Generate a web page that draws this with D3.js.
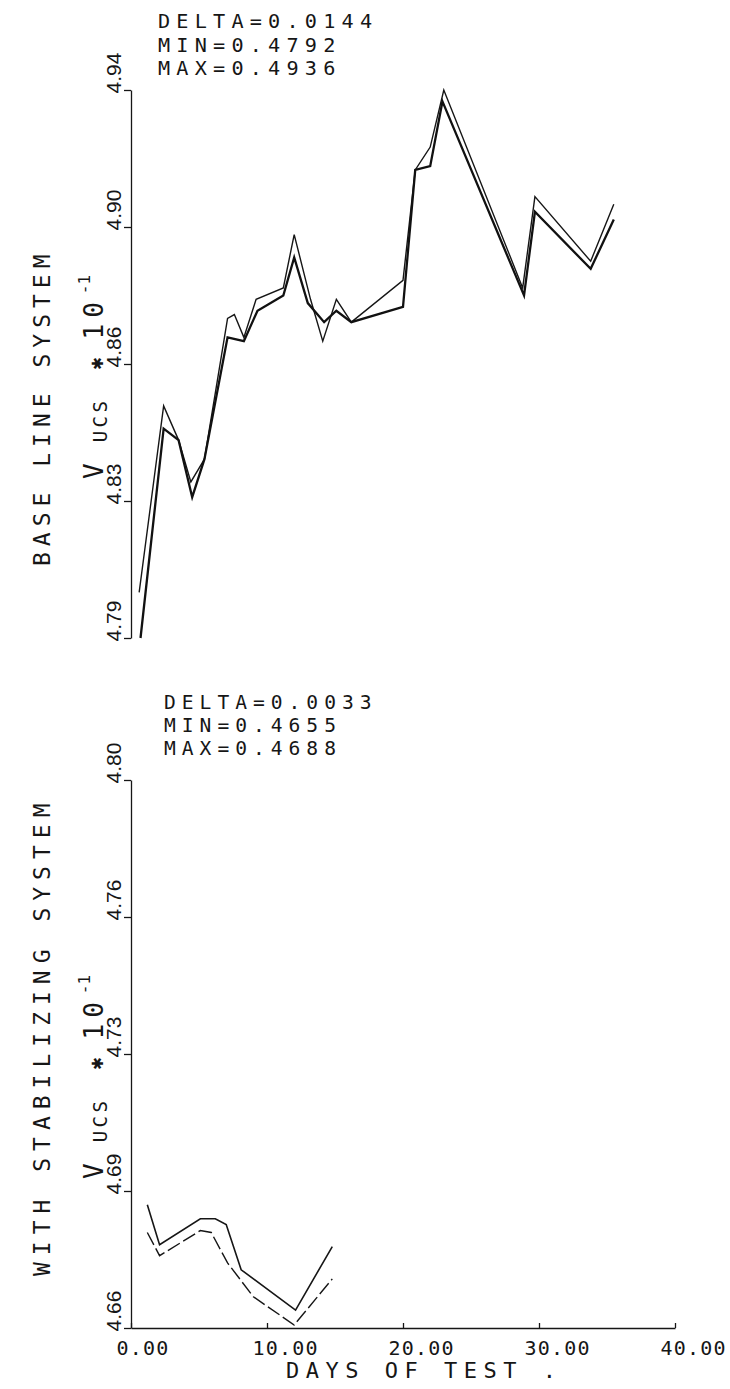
<!DOCTYPE html>
<html lang="en">
<head>
<meta charset="UTF-8">
<title>V UCS vs days of test</title>
<script src="https://d3js.org/d3.v7.min.js"></script>
<style>
  body { margin: 0; background: #fff; }
  svg text { font-family: "DejaVu Sans Mono", monospace; fill: #161616; }
</style>
</head>
<body>
<script>
// readings taken off the plotter sheet (days of test, V UCS x10^-1)
const xTicks = [0, 10, 20, 30, 40];

// baseline system
const topDaysA = [0.6, 2.4, 3.5, 4.4, 5.4, 7.1, 7.6, 8.3, 9.2, 11.2, 12.0, 13.2, 14.1, 15.1, 16.2, 20.0, 20.9, 22.0, 23.0, 28.8, 29.7, 33.8, 35.5];
const topValsA = [4.804, 4.853, 4.844, 4.833, 4.839, 4.876, 4.877, 4.871, 4.881, 4.884, 4.898, 4.881, 4.870, 4.881, 4.875, 4.886, 4.915, 4.921, 4.936, 4.884, 4.908, 4.891, 4.906];
const topDaysB = [0.7, 2.4, 3.5, 4.5, 5.4, 7.1, 8.3, 9.3, 11.2, 12.0, 13.0, 14.2, 15.1, 16.2, 20.0, 20.9, 22.0, 22.9, 28.9, 29.7, 33.8, 35.5];
const topValsB = [4.792, 4.847, 4.844, 4.829, 4.839, 4.871, 4.870, 4.878, 4.882, 4.892, 4.880, 4.875, 4.878, 4.875, 4.879, 4.915, 4.916, 4.933, 4.882, 4.904, 4.889, 4.902];
const topTicks = [4.792, 4.828, 4.864, 4.900, 4.936];
const topTickLabels = ["4.79", "4.83", "4.86", "4.90", "4.94"];
const topStats = ["DELTA=0.0144", "MIN=0.4792", "MAX=0.4936"];

// with stabilizing system
const botDaysA = [1.2, 2.1, 5.1, 6.2, 7.0, 8.1, 12.1, 14.8];
const botValsA = [4.6874, 4.6769, 4.6837, 4.6837, 4.6822, 4.6703, 4.6597, 4.6764];
const botDaysB = [1.2, 2.1, 5.1, 5.9, 7.1, 9.0, 12.0, 14.8];
const botValsB = [4.6801, 4.6740, 4.6806, 4.6801, 4.6721, 4.6632, 4.6558, 4.6679];
const botTicks = [4.655, 4.691, 4.727, 4.763, 4.799];
const botTickLabels = ["4.66", "4.69", "4.73", "4.76", "4.80"];
const botStats = ["DELTA=0.0033", "MIN=0.4655", "MAX=0.4688"];

const svg = d3.select("body").append("svg")
    .attr("width", 730)
    .attr("height", 1389)
    .style("background", "#fff");

const x = d3.scaleLinear().domain([0, 40]).range([131, 675]);
const yTop = d3.scaleLinear().domain([4.792, 4.936]).range([638, 90]);
const yBot = d3.scaleLinear().domain([4.655, 4.799]).range([1328, 780]);

function zip(days, vals) {
    return days.map((d, i) => [d, vals[i]]);
}

function yAxis(y, ticks, labels) {
    const g = svg.append("g")
        .attr("transform", `translate(${x(0)},0)`)
        .call(d3.axisLeft(y).tickValues(ticks).tickSize(7).tickSizeOuter(0)
            .tickFormat((d, i) => labels[i]));
    g.select(".domain").attr("stroke", "#161616").attr("stroke-width", 1.3);
    g.selectAll(".tick line").attr("stroke", "#161616").attr("stroke-width", 1.3);
    g.selectAll(".tick text")
        .attr("x", null).attr("dy", null)
        .attr("transform", "translate(-10,3) rotate(-90)")
        .attr("text-anchor", "start")
        .style("font-family", "'Liberation Sans', sans-serif")
        .style("font-size", "21px");
    return g;
}

function panelTitle(cx, yStart, label, spacing) {
    svg.append("text")
        .attr("transform", `translate(${cx},${yStart}) rotate(-90)`)
        .attr("text-anchor", "start")
        .style("font-size", "23px")
        .style("letter-spacing", spacing + "px")
        .text(label);
}

// V with subscript UCS, then *10 with superscript -1
function unitsLabel(yStart) {
    const t = svg.append("text")
        .attr("transform", `translate(103,${yStart}) rotate(-90)`)
        .attr("text-anchor", "start");
    t.append("tspan").style("font-size", "26px").text("V");
    t.append("tspan").attr("dx", 21).attr("dy", 4)
        .style("font-size", "19px").style("letter-spacing", "3.5px").text("UCS");
    t.append("tspan").attr("dx", 28).attr("dy", -4)
        .style("font-size", "20px").text("✱");
    t.append("tspan").attr("dx", 18)
        .style("font-size", "26px").style("letter-spacing", "6px").text("10");
    t.append("tspan").attr("dx", 2).attr("dy", -13)
        .style("font-size", "16px").text("-1");
}

// three stacked lines, kept clear of each other
function stats(x0, yFirst, lines, size, pitch, spacing) {
    const t = svg.append("text")
        .style("font-size", size + "px")
        .style("letter-spacing", spacing + "px");
    t.selectAll("tspan")
        .data(lines)
        .join("tspan")
        .attr("x", x0)
        .attr("y", (d, i) => yFirst + i * pitch)
        .text(d => d);
}

const line = y => d3.line().x(d => x(d[0])).y(d => y(d[1]));

// ---- top panel: base line system
yAxis(yTop, topTicks, topTickLabels);
svg.append("path").datum(zip(topDaysA, topValsA))
    .attr("d", line(yTop))
    .attr("fill", "none").attr("stroke", "#161616").attr("stroke-width", 1.4)
    .attr("stroke-linejoin", "miter");
svg.append("path").datum(zip(topDaysB, topValsB))
    .attr("d", line(yTop))
    .attr("fill", "none").attr("stroke", "#111").attr("stroke-width", 2.3)
    .attr("stroke-linejoin", "miter");
stats(158, 28, topStats, 20.2, 23.6, 6.2);
panelTitle(50, 566, "BASE LINE SYSTEM", 6);
unitsLabel(479);

// ---- bottom panel: with stabilizing system
yAxis(yBot, botTicks, botTickLabels);
const xg = svg.append("g")
    .attr("transform", `translate(0,${yBot(4.655)})`)
    .call(d3.axisBottom(x).tickValues(xTicks).tickSize(-5).tickSizeOuter(0)
        .tickFormat(d3.format(".2f")));
xg.select(".domain").attr("stroke", "#161616").attr("stroke-width", 1.3);
xg.selectAll(".tick line").attr("stroke", "#161616").attr("stroke-width", 1.3);
xg.selectAll(".tick text")
    .attr("dy", null).attr("y", 27).attr("x", -15)
    .attr("text-anchor", "start")
    .style("font-family", "'DejaVu Sans Mono', monospace")
    .style("font-size", "20px")
    .style("letter-spacing", "1.2px");

svg.append("path").datum(zip(botDaysA, botValsA))
    .attr("d", line(yBot))
    .attr("fill", "none").attr("stroke", "#161616").attr("stroke-width", 1.6);
svg.append("path").datum(zip(botDaysB, botValsB))
    .attr("d", line(yBot))
    .attr("fill", "none").attr("stroke", "#161616").attr("stroke-width", 1.4)
    .attr("stroke-dasharray", "14,4");
stats(164, 709, botStats, 19.6, 22.9, 6);
panelTitle(50, 1276, "WITH STABILIZING SYSTEM", 7);
unitsLabel(1179);

svg.append("text")
    .attr("x", 286).attr("y", 1378)
    .style("font-size", "22px")
    .style("letter-spacing", "6.5px")
    .text("DAYS OF TEST .");
</script>
</body>
</html>
